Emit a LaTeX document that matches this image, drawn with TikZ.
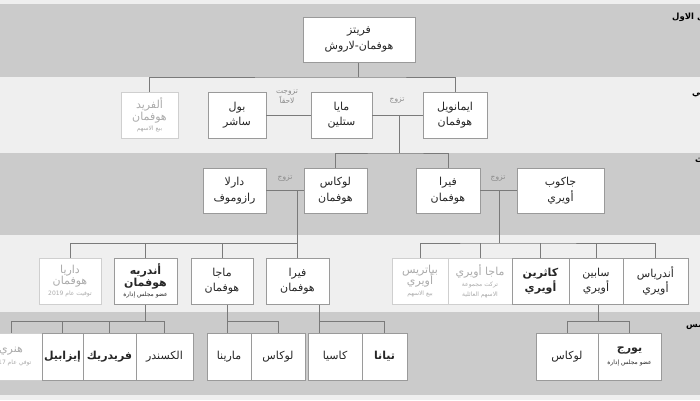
\documentclass[tikz,border=0pt]{standalone}
\usepackage{fontspec}
\newfontfamily\ar[Script=Arabic]{DejaVu Sans}
\TeXXeTstate=1
\newcommand\AR[1]{{\ar\beginR #1\endR}}
\newcommand\ARs[1]{{\fontsize{6}{8}\selectfont\ar\beginR #1\endR}}
\definecolor{bandD}{HTML}{CBCBCB}
\definecolor{bandL}{HTML}{EFEFEF}
\definecolor{lineC}{HTML}{7A7A7A}
\definecolor{boxC}{HTML}{9A9A9A}
\definecolor{fadeT}{HTML}{ABABAB}
\definecolor{fadeB}{HTML}{CFCFCF}
\definecolor{lblC}{HTML}{8A8A8A}
\tikzset{
  person/.style={draw=boxC, fill=white, line width=0.7pt, align=center, inner sep=1pt,
    font=\fontsize{11}{15.5}\selectfont, text=black!85},
  faded/.style={person, draw=fadeB, text=fadeT},
  conn/.style={draw=lineC, line width=1pt},
  wedlbl/.style={text=lblC, font=\fontsize{7.5}{10}\selectfont, align=center, inner sep=0pt},
  genlbl/.style={anchor=west, inner sep=0pt, font=\fontsize{8.5}{10}\selectfont\bfseries, text=black}
}
\begin{document}
\begin{tikzpicture}[x=1pt,y=-1pt]
\useasboundingbox (0,0) rectangle (700,400);
\clip (0,0) rectangle (700,400);
% bands
\fill[bandL] (0,0) rectangle (700,400);
\fill[bandD] (0,4) rectangle (700,77);
\fill[bandL] (0,77) rectangle (700,153);
\fill[bandD] (0,153) rectangle (700,235);
\fill[bandL] (0,235) rectangle (700,312);
\fill[bandD] (0,312) rectangle (700,395);
% generation labels (cut by the right edge, as in the reference)
\node[genlbl] (g1) at (672,17) {\AR{الجيل الاول}};
\node[genlbl] (g2) at (692,93) {\AR{الجيل الثاني}};
\node[genlbl] (g3) at (695,160) {\AR{الجيل الثالث}};
\node[genlbl] (g5) at (686,325) {\AR{الجيل الخامس}};

% junction coordinates
\coordinate (j1) at (358,77);
\coordinate (m1) at (399,115);
\coordinate (j2) at (399,153);
\coordinate (m2) at (297.5,190.5);
\coordinate (j3) at (297.5,243);
\coordinate (m3) at (499,190.5);
\coordinate (j4) at (499,243);
\coordinate (j5) at (145.5,321);
\coordinate (jm) at (227,321);
\coordinate (jv) at (319,321);
\coordinate (js) at (598,321);

% connectors (drawn first, boxes on top)
\draw[conn] (358,62) -- (j1);
\draw[conn] (149.5,92) |- (j1) -| (455,92);
\draw[conn] (m1) -- (j2);
\draw[conn] (335.5,168) |- (j2) -| (448,168);
\draw[conn] (m2) -- (297.5,258);
\draw[conn] (70,258) |- (j3);
\draw[conn] (145.5,258) -- (145.5,243);
\draw[conn] (222,258) -- (222,243);
\draw[conn] (m3) -- (j4);
\draw[conn] (420,258) |- (j4) -| (655.5,258);
\draw[conn] (480,258) -- (480,243);
\draw[conn] (540.5,258) -- (540.5,243);
\draw[conn] (596,258) -- (596,243);
\draw[conn] (145.5,304) -- (j5);
\draw[conn] (11,333) |- (j5) -| (164.5,333);
\draw[conn] (62.5,333) -- (62.5,321);
\draw[conn] (109.5,333) -- (109.5,321);
\draw[conn] (227,304) -- (jm) -| (278,333);
\draw[conn] (jm) -- (227,333);
\draw[conn] (319,304) -- (jv) -| (384.5,333);
\draw[conn] (jv) -- (319,333);
\draw[conn] (598,304) -- (js);
\draw[conn] (567,333) |- (js) -| (629.5,333);

% generation 1
\node[person, minimum width=112pt, minimum height=45pt] (fritz) at (359,39.5) {\AR{فريتز}\\\AR{هوفمان-لاروش}};

% generation 2
\node[faded, minimum width=57pt, minimum height=46pt] (alfred) at (149.5,115) {\AR{ألفريد}\\[-4pt]\AR{هوفمان}\\[-5pt]\ARs{بيع الاسهم}};
\node[person, minimum width=58pt, minimum height=46pt] (paul) at (237,115) {\AR{بول}\\\AR{ساشر}};
\node[person, minimum width=61pt, minimum height=46pt] (maja) at (341.5,115) {\AR{مايا}\\\AR{ستلين}};
\node[person, minimum width=64pt, minimum height=46pt] (emanuel) at (455,115) {\AR{ايمانويل}\\\AR{هوفمان}};
\draw[conn] (paul) -- (maja);
\draw[conn] (maja) -- (emanuel);
\node[wedlbl] (w1) at (287,97) {\AR{تزوجت}\\\AR{لاحقاً}};
\node[wedlbl] (w2) at (397,101) {\AR{تزوج}};

% generation 3
\node[person, minimum width=63pt, minimum height=45pt] (darla) at (234.5,190.5) {\AR{دارلا}\\\AR{رازوموف}};
\node[person, minimum width=63pt, minimum height=45pt] (lukas) at (335.5,190.5) {\AR{لوكاس}\\\AR{هوفمان}};
\node[person, minimum width=64pt, minimum height=45pt] (vera) at (448,190.5) {\AR{فيرا}\\\AR{هوفمان}};
\node[person, minimum width=87pt, minimum height=45pt] (jakob) at (560.5,190.5) {\AR{جاكوب}\\\AR{أويري}};
\draw[conn] (darla) -- (lukas);
\draw[conn] (vera) -- (jakob);
\node[wedlbl] (w3) at (285,179) {\AR{تزوج}};
\node[wedlbl] (w4) at (498,179) {\AR{تزوج}};

% generation 4
\node[faded, minimum width=62pt, minimum height=46pt] (daria) at (70,281) {\AR{داريا}\\[-4pt]\AR{هوفمان}\\[-5pt]\ARs{توفيت عام \beginL 2019\endL}};
\node[person, minimum width=63pt, minimum height=46pt] (andre) at (145.5,281) {\bfseries\AR{أندريه}\\[-4pt]\bfseries\AR{هوفمان}\\[-5pt]\ARs{عضو مجلس إدارة}};
\node[person, minimum width=62pt, minimum height=46pt] (majah) at (222,281) {\AR{ماجا}\\\AR{هوفمان}};
\node[person, minimum width=63pt, minimum height=46pt] (verah) at (297.5,281) {\AR{فيرا}\\\AR{هوفمان}};
\node[faded, minimum width=56pt, minimum height=46pt] (beatrice) at (420,281) {\AR{بياتريس}\\[-4pt]\AR{أويري}\\[-5pt]\ARs{بيع الاسهم}};
\node[faded, minimum width=64pt, minimum height=46pt] (majao) at (480,281) {\AR{ماجا أويري}\\[-4pt]\ARs{تركت مجموعة}\\[-6pt]\ARs{الاسهم العائلية}};
\node[person, minimum width=57pt, minimum height=46pt] (catherine) at (540.5,281) {\bfseries\AR{كاثرين}\\\bfseries\AR{أويري}};
\node[person, minimum width=54pt, minimum height=46pt] (sabine) at (596,281) {\AR{سابين}\\\AR{أويري}};
\node[person, minimum width=65pt, minimum height=46pt] (andreas) at (655.5,281) {\AR{أندرياس}\\\AR{أويري}};

% generation 5
\node[faded, minimum width=62pt, minimum height=47pt] (henri) at (11,356.5) {\AR{هنري}\\[-4pt]\ARs{توفي عام \beginL 2017\endL}};
\node[person, minimum width=41pt, minimum height=47pt] (isabel) at (62.5,356.5) {\bfseries\AR{إيزابيل}};
\node[person, minimum width=53pt, minimum height=47pt] (frederic) at (109.5,356.5) {\bfseries\AR{فريدريك}};
\node[person, minimum width=57pt, minimum height=47pt] (alexander) at (164.5,356.5) {\AR{الكسندر}};
\node[person, minimum width=44pt, minimum height=47pt] (marina) at (229,356.5) {\AR{مارينا}};
\node[person, minimum width=54pt, minimum height=47pt] (lukasm) at (278,356.5) {\AR{لوكاس}};
\node[person, minimum width=54pt, minimum height=47pt] (kasia) at (335,356.5) {\AR{كاسيا}};
\node[person, minimum width=45pt, minimum height=47pt] (tiana) at (384.5,356.5) {\bfseries\AR{تيانا}};
\node[person, minimum width=62pt, minimum height=47pt] (lukass) at (567,356.5) {\AR{لوكاس}};
\node[person, minimum width=63pt, minimum height=47pt] (jorg) at (629.5,356.5) {\bfseries\AR{يورج}\\[-2pt]\ARs{عضو مجلس إدارة}};
\end{tikzpicture}
\end{document}
